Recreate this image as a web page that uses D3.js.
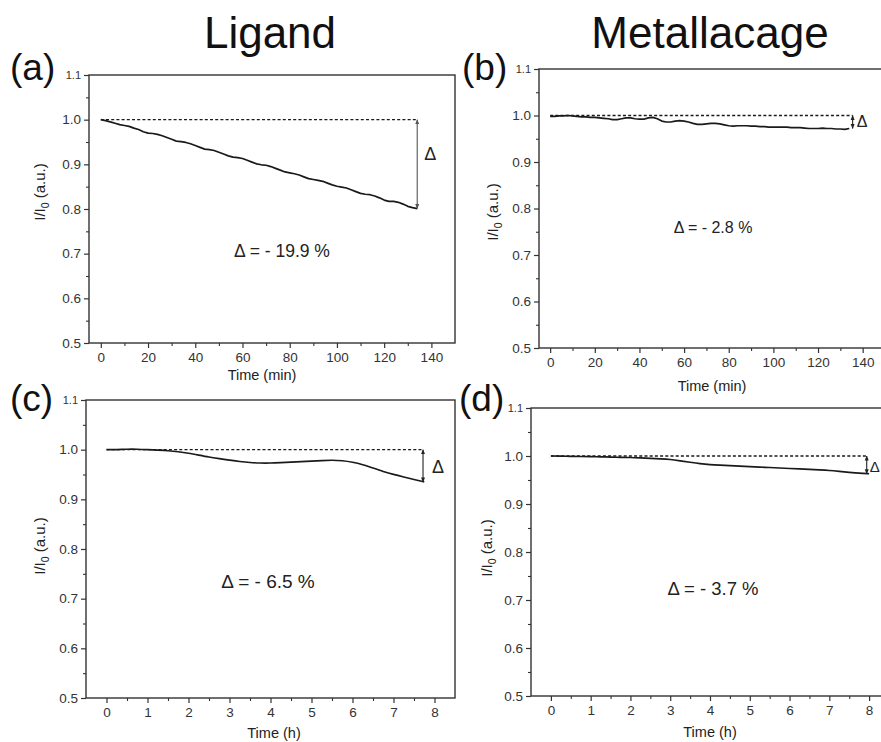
<!DOCTYPE html>
<html>
<head>
<meta charset="utf-8">
<script src="https://cdn.jsdelivr.net/npm/d3@7"></script>
<style>
  body { margin: 0; background: #fff; }
  svg { display: block; font-family: "Liberation Sans", Arial, sans-serif; }
</style>
</head>
<body>
<svg id="chart" width="881" height="742"></svg>
<script>
// ---- data -------------------------------------------------------------
// Photostability traces, I/I0 versus time.
const minutesA = d3.range(0, 135, 2);   // sampling grid, panel (a)
const ligandMin = [
  1.000, 0.998, 0.995, 0.992, 0.989, 0.987, 0.985, 0.981, 0.978, 0.973,
  0.970, 0.969, 0.967, 0.964, 0.960, 0.956, 0.952, 0.951, 0.949, 0.946,
  0.942, 0.938, 0.934, 0.933, 0.931, 0.927, 0.923, 0.919, 0.916, 0.915,
  0.913, 0.909, 0.905, 0.901, 0.899, 0.898, 0.895, 0.891, 0.887, 0.883,
  0.881, 0.879, 0.876, 0.872, 0.868, 0.866, 0.864, 0.862, 0.858, 0.854,
  0.851, 0.849, 0.847, 0.843, 0.839, 0.835, 0.833, 0.832, 0.829, 0.825,
  0.820, 0.817, 0.817, 0.815, 0.811, 0.806, 0.803, 0.801
];

const minutesB = d3.range(0, 135, 2);   // sampling grid, panel (b)
const cageMin = [
  0.998, 0.998, 0.999, 0.999, 1.000, 0.999, 0.998, 0.997, 0.997, 0.996,
  0.996, 0.995, 0.994, 0.993, 0.991, 0.991, 0.993, 0.995, 0.995, 0.993,
  0.992, 0.992, 0.995, 0.996, 0.993, 0.988, 0.986, 0.986, 0.988, 0.989,
  0.988, 0.986, 0.983, 0.981, 0.981, 0.982, 0.983, 0.983, 0.982, 0.980,
  0.978, 0.977, 0.978, 0.978, 0.978, 0.977, 0.977, 0.976, 0.976, 0.975,
  0.975, 0.975, 0.975, 0.975, 0.974, 0.974, 0.974, 0.973, 0.972, 0.972,
  0.972, 0.973, 0.972, 0.972, 0.971, 0.971, 0.970, 0.972
];

const hoursC = d3.range(0, 7.76, 0.25);  // sampling grid, panel (c)
const ligandHour = [
  1.000, 1.000, 1.001, 1.001, 1.000, 0.999, 0.998, 0.996, 0.993, 0.989,
  0.985, 0.982, 0.979, 0.976, 0.974, 0.973, 0.973, 0.974, 0.975, 0.976,
  0.977, 0.978, 0.979, 0.978, 0.975, 0.970, 0.963, 0.956, 0.950, 0.945,
  0.940, 0.935
];

const hoursD = d3.range(0, 8.01, 0.25);  // sampling grid, panel (d)
const cageHour = [
  1.000, 1.000, 0.999, 0.999, 0.999, 0.998, 0.998, 0.997, 0.997, 0.996,
  0.995, 0.994, 0.993, 0.990, 0.987, 0.984, 0.982, 0.981, 0.980, 0.979,
  0.978, 0.977, 0.976, 0.975, 0.974, 0.973, 0.972, 0.971, 0.970, 0.968,
  0.966, 0.964, 0.963
];

// Relative intensity change at the end of each run (%)
const deltaPct = [-19.9, -2.8, -6.5, -3.7];
// Time at which each change is measured
const deltaTime = [134, 135.5, 7.72, 7.94];

const columnTitles = ["Ligand", "Metallacage"];
const panelLetters = ["(a)", "(b)", "(c)", "(d)"];
const yTickValues = [0.5, 0.6, 0.7, 0.8, 0.9, 1.0, 1.1];
const yMinorValues = [0.55, 0.65, 0.75, 0.85, 0.95, 1.05];
const minTickValues = [0, 20, 40, 60, 80, 100, 120, 140];
const minMinorValues = [10, 30, 50, 70, 90, 110, 130];
const hourTickValues = [0, 1, 2, 3, 4, 5, 6, 7, 8];
const hourMinorValues = [0.5, 1.5, 2.5, 3.5, 4.5, 5.5, 6.5, 7.5];
const xTitles = ["Time (min)", "Time (h)"];

// ---- layout -----------------------------------------------------------
const svg = d3.select("#chart");
const ink = "#1a1a1a";

const defs = svg.append("defs");
function arrowMarker(id, color) {
  defs.append("marker")
    .attr("id", id)
    .attr("viewBox", "0 0 10 10")
    .attr("refX", 9).attr("refY", 5)
    .attr("markerWidth", 5).attr("markerHeight", 5)
    .attr("markerUnits", "userSpaceOnUse")
    .attr("orient", "auto-start-reverse")
    .append("path")
    .attr("d", "M0,1 L10,5 L0,9 Z")
    .attr("fill", color);
}
arrowMarker("arrGray", "#555");
arrowMarker("arrDark", "#222");

const panels = [
  { rect: {l: 89, r: 455, t: 75, b: 343}, xDomain: [-5, 150],
    times: minutesA, values: ligandMin, curve: d3.curveLinear,
    xt: minTickValues, xm: minMinorValues, xTitle: xTitles[0],
    letter: {x: 10, y: 80}, xLab: {x: 262, y: 380}, yLab: {x: 45, y: 192},
    note: {x: 282, y: 257, size: 17.5}, dLab: {dx: 7, y: 160, size: 18},
    arrowColor: "#555", marker: "arrGray", arrowW: 1.1 },
  { rect: {l: 539, r: 885, t: 69, b: 348}, xDomain: [-5, 150],
    times: minutesB, values: cageMin, curve: d3.curveLinear,
    xt: minTickValues, xm: minMinorValues, xTitle: xTitles[0],
    letter: {x: 462, y: 80}, xLab: {x: 712, y: 391}, yLab: {x: 498, y: 212},
    note: {x: 713, y: 233, size: 16}, dLab: {dx: 4, y: 127, size: 16},
    arrowColor: "#222", marker: "arrDark", arrowW: 1.1 },
  { rect: {l: 86, r: 455, t: 400, b: 698}, xDomain: [-0.5, 8.5],
    times: hoursC, values: ligandHour, curve: d3.curveBasis,
    xt: hourTickValues, xm: hourMinorValues, xTitle: xTitles[1],
    letter: {x: 10, y: 411}, xLab: {x: 274, y: 738}, yLab: {x: 45, y: 546},
    note: {x: 268, y: 588, size: 19}, dLab: {dx: 9, y: 473, size: 18},
    arrowColor: "#222", marker: "arrDark", arrowW: 1.1 },
  { rect: {l: 531, r: 889, t: 408, b: 696}, xDomain: [-0.5, 8.5],
    times: hoursD, values: cageHour, curve: d3.curveBasis,
    xt: hourTickValues, xm: hourMinorValues, xTitle: xTitles[1],
    letter: {x: 459, y: 411}, xLab: {x: 710, y: 737}, yLab: {x: 492, y: 548},
    note: {x: 713, y: 595, size: 18.5}, dLab: {dx: 3, y: 472, size: 15},
    arrowColor: "#222", marker: "arrDark", arrowW: 1.1 }
];

// ---- column titles ----------------------------------------------------
svg.append("text").attr("x", 270).attr("y", 48)
  .attr("text-anchor", "middle").attr("font-size", 44).attr("fill", "#111")
  .text(columnTitles[0]);
svg.append("text").attr("x", 710).attr("y", 48)
  .attr("text-anchor", "middle").attr("font-size", 44).attr("fill", "#111")
  .text(columnTitles[1]);

// ---- panels -----------------------------------------------------------
panels.forEach((p, i) => {
  const R = p.rect;
  const x = d3.scaleLinear().domain(p.xDomain).range([R.l, R.r]);
  const y = d3.scaleLinear().domain([0.5, 1.1]).range([R.b, R.t]);
  const g = svg.append("g");

  // frame
  g.append("rect")
    .attr("x", R.l).attr("y", R.t)
    .attr("width", R.r - R.l).attr("height", R.b - R.t)
    .attr("fill", "none").attr("stroke", "#333").attr("stroke-width", 1.4);

  // y axis, major + minor ticks
  const yAx = g.append("g").attr("transform", `translate(${R.l},0)`)
    .call(d3.axisLeft(y).tickValues(yTickValues).tickSize(5).tickPadding(3)
      .tickFormat(d3.format(".1f")));
  yAx.select(".domain").remove();
  yAx.selectAll(".tick line").attr("stroke", "#333").attr("stroke-width", 1.2);
  yAx.selectAll(".tick text")
    .attr("font-family", "Liberation Sans, Arial, sans-serif")
    .attr("font-size", d => d > 1.05 ? 11 : 13.5).attr("fill", "#333");
  const yMin = g.append("g").attr("transform", `translate(${R.l},0)`)
    .call(d3.axisLeft(y).tickValues(yMinorValues).tickSize(3).tickFormat(""));
  yMin.select(".domain").remove();
  yMin.selectAll(".tick line").attr("stroke", "#333").attr("stroke-width", 1.1);

  // x axis, major + minor ticks
  const xAx = g.append("g").attr("transform", `translate(0,${R.b})`)
    .call(d3.axisBottom(x).tickValues(p.xt).tickSize(5).tickPadding(4)
      .tickFormat(d3.format("d")));
  xAx.select(".domain").remove();
  xAx.selectAll(".tick line").attr("stroke", "#333").attr("stroke-width", 1.2);
  xAx.selectAll(".tick text")
    .attr("font-family", "Liberation Sans, Arial, sans-serif")
    .attr("font-size", 13.5).attr("fill", "#333");
  const xMin = g.append("g").attr("transform", `translate(0,${R.b})`)
    .call(d3.axisBottom(x).tickValues(p.xm).tickSize(3).tickFormat(""));
  xMin.select(".domain").remove();
  xMin.selectAll(".tick line").attr("stroke", "#333").attr("stroke-width", 1.1);

  // axis titles
  g.append("text").attr("x", p.xLab.x).attr("y", p.xLab.y)
    .attr("text-anchor", "middle").attr("font-size", 14.5).attr("fill", "#222")
    .text(p.xTitle);
  const yl = g.append("text")
    .attr("transform", `translate(${p.yLab.x},${p.yLab.y}) rotate(-90)`)
    .attr("text-anchor", "middle").attr("font-size", 15).attr("fill", "#222");
  yl.append("tspan").text("I/I");
  yl.append("tspan").attr("font-size", 10.5).attr("dy", 4).text("0");
  yl.append("tspan").attr("dy", -4).text(" (a.u.)");

  // reference level at I/I0 = 1
  const tEnd = deltaTime[i];
  const vEnd = 1 + deltaPct[i] / 100;
  g.append("line")
    .attr("x1", x(0)).attr("x2", x(tEnd))
    .attr("y1", y(1)).attr("y2", y(1))
    .attr("stroke", ink).attr("stroke-width", 1.4)
    .attr("stroke-dasharray", "3,2.2");

  // trace
  const line = d3.line()
    .x((d, k) => x(p.times[k]))
    .y(d => y(d))
    .curve(p.curve);
  g.append("path").datum(p.values)
    .attr("d", line)
    .attr("fill", "none").attr("stroke", ink)
    .attr("stroke-width", 1.7).attr("stroke-linejoin", "round");

  // double arrow marking the change
  g.append("line")
    .attr("x1", x(tEnd)).attr("x2", x(tEnd))
    .attr("y1", y(1)).attr("y2", y(vEnd))
    .attr("stroke", p.arrowColor).attr("stroke-width", p.arrowW)
    .attr("marker-start", `url(#${p.marker})`)
    .attr("marker-end", `url(#${p.marker})`);
  g.append("text")
    .attr("x", x(tEnd) + p.dLab.dx).attr("y", p.dLab.y)
    .attr("font-size", p.dLab.size).attr("fill", "#222")
    .text("Δ");

  // change annotation
  g.append("text").attr("x", p.note.x).attr("y", p.note.y)
    .attr("text-anchor", "middle").attr("font-size", p.note.size).attr("fill", "#222")
    .text(`Δ = - ${Math.abs(deltaPct[i]).toFixed(1)} %`);

  // panel letter
  g.append("text").attr("x", p.letter.x).attr("y", p.letter.y)
    .attr("font-size", 37).attr("fill", "#111")
    .text(panelLetters[i]);
});
</script>
</body>
</html>
